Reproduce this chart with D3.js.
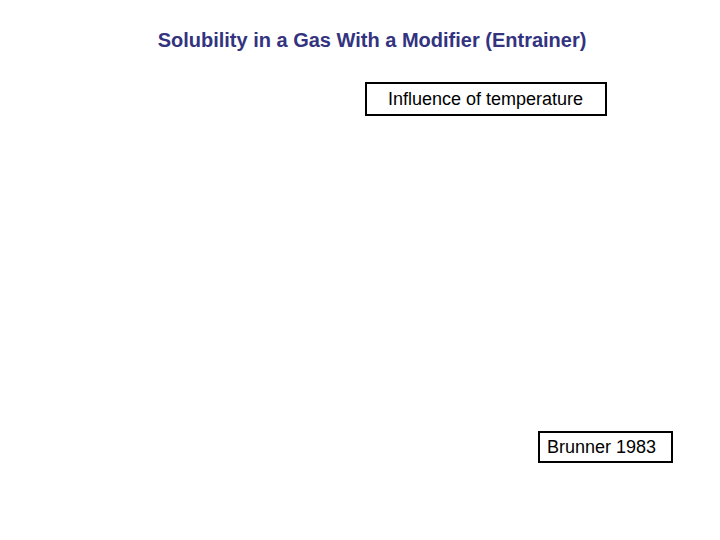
<!DOCTYPE html>
<html>
<head>
<meta charset="utf-8">
<script src="https://cdn.jsdelivr.net/npm/d3@7"></script>
<style>
  body { margin: 0; background: #fff; }
  text { font-family: "Liberation Sans", Arial, sans-serif; }
</style>
</head>
<body>
<div id="vis"></div>
<script>
// slide text
var title = 'Solubility in a Gas With a Modifier (Entrainer)';
var boxLabels = ['Influence of temperature', 'Brunner 1983'];

var width = 720;
var height = 540;

var svg = d3.select('#vis').append('svg')
  .attr('width', width)
  .attr('height', height);

svg.append('rect')
  .attr('width', width)
  .attr('height', height)
  .attr('fill', '#ffffff');

// title
svg.append('text')
  .attr('x', 372)
  .attr('y', 47)
  .attr('text-anchor', 'middle')
  .attr('font-size', 20)
  .attr('font-weight', 'bold')
  .attr('fill', '#333380')
  .text(title);

// boxed labels (tx = text left edge inside box)
var boxes = [
  { x: 366, y: 83, w: 240, h: 32, tx: 22 },
  { x: 539, y: 432, w: 133, h: 30, tx: 8 }
];

var g = svg.selectAll('.box').data(boxLabels)
  .enter().append('g')
  .attr('class', 'box')
  .attr('transform', function (d, i) { return 'translate(' + boxes[i].x + ',' + boxes[i].y + ')'; });

g.append('rect')
  .attr('width', function (d, i) { return boxes[i].w; })
  .attr('height', function (d, i) { return boxes[i].h; })
  .attr('fill', 'none')
  .attr('stroke', '#000')
  .attr('stroke-width', 2);

g.append('text')
  .attr('x', function (d, i) { return boxes[i].tx; })
  .attr('y', function (d, i) { return boxes[i].h / 2 + 6; })
  .attr('font-size', 18)
  .attr('fill', '#000')
  .text(function (d) { return d; });
</script>
</body>
</html>
